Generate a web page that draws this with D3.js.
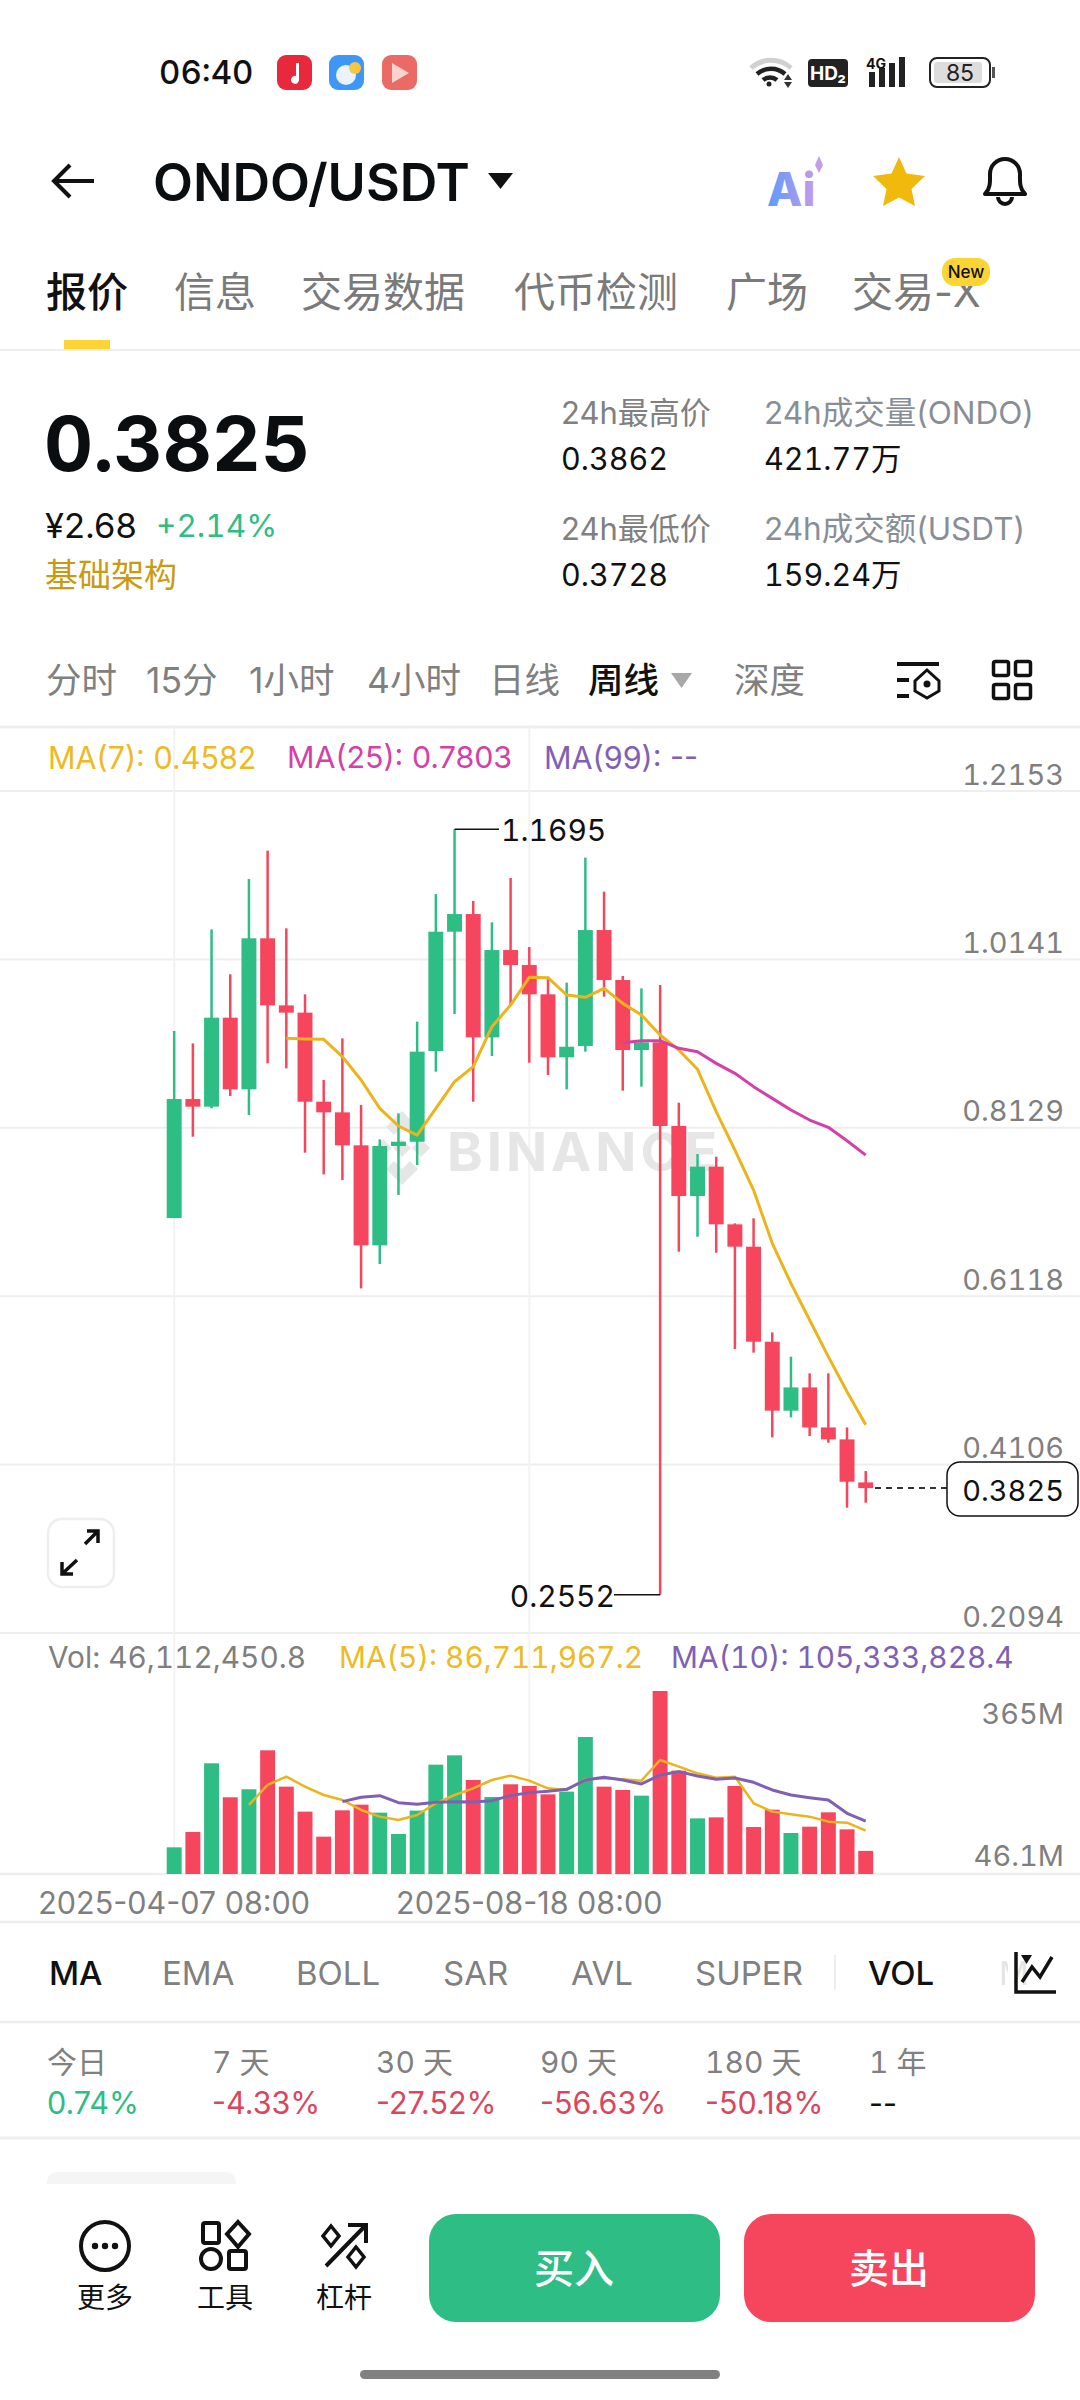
<!DOCTYPE html>
<html><head><meta charset="utf-8">
<style>html,body{margin:0;padding:0;background:#fff}svg{display:block}text{font-family:Inter,"Noto Sans CJK SC",sans-serif}.t{font-variant-numeric:tabular-nums;font-feature-settings:"tnum" 1}</style>
<script src="https://cdnjs.cloudflare.com/ajax/libs/d3/7.8.5/d3.min.js"></script>
</head><body><svg id="c" width="1080" height="2400"></svg>
<script>
// ---- chart data ----
const weeks = d3.range(38);
const dateTicks = [[0,"2025-04-07 08:00"],[19,"2025-08-18 08:00"]];
const open  = [.7051,.8473,.8382,.9445,.8589,1.0393,.9592,.9505,.8441,.8314,.7920,.6725,.7912,.7963,.9047,1.0472,1.0683,.9210,1.0253,1.0074,.9724,.8971,.9106,1.0492,.9895,.9059,.9150,.8151,.7314,.7665,.6976,.6709,.5574,.4750,.5028,.4550,.4407,.3893];
const close = [.8473,.8382,.9445,.8589,1.0393,.9592,.9505,.8441,.8314,.7920,.6725,.7912,.7963,.9039,1.0472,1.0683,.9210,1.0253,1.0074,.9724,.8971,.9098,1.0492,.9895,.9059,.9150,.8151,.7314,.7665,.6976,.6709,.5574,.4750,.5028,.4550,.4407,.3901,.3825];
const high  = [.9286,.9138,1.0500,.9963,1.1102,1.1440,1.0512,.9724,.8700,.9198,.8402,.7991,.8302,.9397,1.0922,1.1695,1.0839,1.0584,1.1114,1.0289,.9935,.9863,1.1357,1.0950,.9943,.9795,.9835,.8429,.7816,.7784,.6988,.7048,.5685,.5395,.5196,.5196,.4550,.4029];
const low   = [.7051,.8023,.8362,.8509,.8282,.8899,.8840,.7832,.7573,.7505,.6211,.6502,.7326,.7685,.8800,.9489,.8441,.8987,.9596,.8907,.8760,.8589,.9039,.9696,.8573,.8621,.2552,.6649,.6828,.6637,.5486,.5443,.4431,.4670,.4447,.4367,.3591,.3650];
const ma7Start = 6;
const ma7  = [.9198,.9190,.9186,.8979,.8700,.8362,.8151,.8043,.8362,.8680,.8860,.9337,.9596,.9927,.9923,.9716,.9688,.9795,.9616,.9477,.9238,.9059,.8828,.8322,.7864,.7386,.6749,.6271,.5833,.5395,.4977,.4582];
const ma25Start = 24;
const ma25 = [.9146,.9170,.9170,.9079,.9039,.8899,.8780,.8621,.8481,.8342,.8222,.8135,.7975,.7803];
const volume = [53.2,83.8,220.8,153,169,246.7,174.2,124.4,74.5,127,138.3,122.4,79.8,126.4,218.1,236.7,187.5,153.6,178.9,175.6,158.9,164.3,273.3,174.2,167.6,156.3,365,206.2,111,113,175.6,93.8,128.3,81.8,94.4,123,89.1,46.1];
const volMa5Start = 4;
const volMa5 = [137.7,177.6,194.2,174.2,157.6,147.6,127.7,114.4,107.7,117.7,141,157.6,170.9,187.5,196.2,186.2,170.9,167.6,188.9,190.9,188.9,186.2,227.4,214.1,200.8,192.2,194.2,141,124.4,119,114.4,104.4,102.4,86.7];
const volMa10Start = 9;
const volMa10 = [144.3,153,156.3,142.3,139,143,144.3,143.6,146.3,156.3,162.3,164.9,168.9,187.5,192.9,187.5,179.6,197.5,204.2,195.5,188.9,191.5,182.9,167.6,157.6,152.3,147.6,121,105.3];
const priceTicks = [1.2153,1.0141,.8129,.6118,.4106,.2094];
const volTicks = [[365,"365M"],[46.1,"46.1M"]];
const lastPrice = .3825, maxMark = [15,1.1695], minMark = [26,.2552];
const pageTabs = [["报价",46,1],["信息",174,0],["交易数据",301,0],["代币检测",514,0],["广场",726,0],["交易-X",852,0]];
const statBlocks = [["24h最高价","0.3862",561,1],["24h成交量(ONDO)","421.77万",764,1],["24h最低价","0.3728",561,2],["24h成交额(USDT)","159.24万",764,2]];
const intervals = [["分时",46,0],["15分",146,0],["1小时",249,0],["4小时",367,0],["日线",489,0],["周线",588,1],["深度",734,0]];
const indicators = [["MA",49,1],["EMA",162,0],["BOLL",296,0],["SAR",443,0],["AVL",571,0],["SUPER",695,0],["VOL",868,1]];
const periods = [["今日","0.74%",47,1],["7 天","-4.33%",212,-1],["30 天","-27.52%",376,-1],["90 天","-56.63%",540,-1],["180 天","-50.18%",705,-1],["1 年","--",869,0]];
const tools = [["更多",105],["工具",225],["杠杆",344]];

const GREEN="#2ebd85", RED="#f6465d", GRID="#eeeeee", GREY="#7f7f7f", YEL="#edba25", MAG="#d440a8", PUR="#7f60b4";
const svg = d3.select("#c");
const T=(x,y,s,size,fill,o={})=>svg.append("text").attr("x",x).attr("y",y).attr("font-size",size).attr("fill",fill)
  .attr("class",o.t?"t":null).attr("dominant-baseline","central").attr("text-anchor",o.a||"start").attr("font-weight",o.w||400).attr("letter-spacing",o.ls||null).text(s);
const L=(x1,y1,x2,y2,c,w=2)=>svg.append("line").attr("x1",x1).attr("y1",y1).attr("x2",x2).attr("y2",y2).attr("stroke",c).attr("stroke-width",w);

// scales
const x = d3.scaleBand().domain(weeks).range([166.7,873.2]).paddingInner(.2);
const cx = i=>x(i)+x.bandwidth()/2;
const y = d3.scaleLinear().domain([.2094,1.2153]).range([1633,791]);
const yv = d3.scaleLinear().domain([0,365]).range([1874,1691]);

// ---- status bar ----
T(159,72,"06:40",33,"#111",{w:500,t:1});
[[277,"#e8283c"],[329,"#3f97f5"],[382,"#ea6a66"]].forEach(([a,c])=>svg.append("rect").attr("x",a).attr("y",55).attr("width",35).attr("height",35).attr("rx",9).attr("fill",c));
svg.append("path").attr("d","M299 63v17a4 4 0 1 1-3-4v-13z").attr("fill","#fff");
svg.append("circle").attr("cx",346).attr("cy",75).attr("r",10).attr("fill","#eaf3fd");
svg.append("circle").attr("cx",355).attr("cy",68).attr("r",6).attr("fill","#f8c640");
svg.append("path").attr("d","M392 63l17 10-17 10z").attr("fill","#fbd2cd");
svg.append("path").attr("d","M751 68a30 30 0 0 1 40 0").attr("fill","none").attr("stroke","#d0d0d0").attr("stroke-width",5);
svg.append("path").attr("d","M757 74a21 21 0 0 1 28 0M763 80a11 11 0 0 1 14 0").attr("fill","none").attr("stroke","#222").attr("stroke-width",4.5);
svg.append("circle").attr("cx",769).attr("cy",84).attr("r",2.5).attr("fill","#222");
svg.append("path").attr("d","M784 80l4-6 4 6zM784 82l4 6 4-6z").attr("fill","#333");
svg.append("rect").attr("x",808).attr("y",59).attr("width",40).attr("height",28).attr("rx",4).attr("fill","#222");
T(828,73,"HD₂",19,"#fff",{a:"middle",w:700});
T(866,63,"4G",14,"#111",{w:700});
[[869,72,15],[879,68,19],[889,63,24],[899,57,30]].forEach(([a,b,h])=>svg.append("rect").attr("x",a).attr("y",b).attr("width",6).attr("height",h).attr("fill","#222"));
svg.append("rect").attr("x",930).attr("y",58).attr("width",60).attr("height",29).attr("rx",7).attr("fill","none").attr("stroke","#222").attr("stroke-width",2);
svg.append("rect").attr("x",934).attr("y",62).attr("width",48).attr("height",21).attr("rx",3).attr("fill","#ddd");
svg.append("rect").attr("x",992).attr("y",67).attr("width",3).attr("height",11).attr("fill","#555");
T(960,73,"85",23,"#222",{a:"middle"});

// ---- header ----
svg.append("path").attr("d","M94 181H55M70 165L54 181L70 197").attr("fill","none").attr("stroke","#111").attr("stroke-width",4);
T(153,182,"ONDO/USDT",52,"#0b0e11",{w:600});
svg.append("path").attr("d","M488 173h25l-12.500 16z").attr("fill","#111");
const aiG=svg.append("defs").append("linearGradient").attr("id","ai");
aiG.append("stop").attr("offset",0).attr("stop-color","#5b9cf8");aiG.append("stop").attr("offset",1).attr("stop-color","#c59bea");
T(767,189,"Ai",46,"url(#ai)",{w:800});
svg.append("path").attr("d","M815 165l4 8 4 -8 -4 -9z").attr("fill","#c59bea");
svg.append("path").attr("d","M899 157l7.500 16.500 18.500 2.500-13.500 13 3.500 17-16-8.500-16 8.500 3.500-17-13.500-13 18.500-2.500z").attr("fill","#f0b90b");
svg.append("path").attr("d","M985 194c6-6 5-14 5-20a15 15 0 0 1 30 0c0 6-1 14 5 20z").attr("fill","none").attr("stroke","#111").attr("stroke-width",4).attr("stroke-linejoin","round");
svg.append("path").attr("d","M998 197a7 7 0 0 0 14 0").attr("fill","none").attr("stroke","#111").attr("stroke-width",4);

// page tabs
pageTabs.forEach(([s,px,on])=>T(px,292,s,41,on?"#111":"#7a7a7a",{w:on?500:400}));
svg.append("rect").attr("x",942).attr("y",258).attr("width",48).attr("height",28).attr("rx",13).attr("fill","#fcd535");
T(966,272,"New",17,"#111",{a:"middle",w:500});
svg.append("rect").attr("x",64).attr("y",340).attr("width",46).attr("height",9).attr("fill","#fcd535");
L(0,350,1080,350,GRID);

// ---- price block ----
T(44,443,"0.3825",76,"#0b0e11",{w:700,t:1});
T(45,525,"¥2.68",34.5,"#111");
T(156,525,"+2.14%",31.5,GREEN,{t:1});
T(45,575,"基础架构",33,"#c99a12");
statBlocks.forEach(([a,b,px,row])=>{const dy=row==1?0:116;
  T(px,412+dy,a,px<700?31:31.5,px<700?"#808080":"#888e96");
  T(px,458+dy,b,30.5,"#111",{t:1});});
intervals.forEach(([s,px,on])=>T(px,680,s,35.5,on?"#111":"#808080",{w:on?500:400}));
svg.append("path").attr("d","M671 673h21l-10.500 15z").attr("fill","#a8a8a8");
svg.append("path").attr("d","M897 664h42M897 680h12M897 696h12").attr("stroke","#111").attr("stroke-width",4);
svg.append("path").attr("d","M927 670l12 11v10l-12 7-12-7v-10z").attr("fill","none").attr("stroke","#111").attr("stroke-width",3);
svg.append("circle").attr("cx",927).attr("cy",684).attr("r",3.5).attr("fill","#111");
[[992,660],[1014,660],[992,683],[1014,683]].forEach(([a,b])=>svg.append("rect").attr("x",a+1.500).attr("y",b+1.500).attr("width",15).attr("height",14).attr("rx",2).attr("fill","none").attr("stroke","#111").attr("stroke-width",3.5));

// ---- chart grid ----
L(0,727,1080,727,GRID,3);
svg.append("g").selectAll("line").data(priceTicks).join("line").attr("x1",0).attr("x2",1080).attr("y1",d=>y(d)).attr("y2",d=>y(d)).attr("stroke",GRID).attr("stroke-width",2);
svg.append("g").selectAll("line").data(dateTicks).join("line").attr("x1",d=>cx(d[0])).attr("x2",d=>cx(d[0])).attr("y1",727).attr("y2",1874).attr("stroke","#f3f3f3").attr("stroke-width",2);
L(0,1874,1080,1874,GRID,2.5);

// watermark
svg.append("path").attr("d","M402 1111l16 16-8 8-8-8-8 8-8-8zM374 1148l9-9 9 9-9 9zM430 1148l-9-9-9 9 9 9zM402 1185l-16-16 8-8 8 8 8-8 8 8zM402 1139l9 9-9 9-9-9z").attr("fill","#e6e6e6");
T(447,1151,"BINANCE",54,"#e6e6e6",{w:700,ls:4});

// ---- candles ----
const up=i=>close[i]>=open[i];
svg.append("g").selectAll("line").data(weeks).join("line")
  .attr("x1",cx).attr("x2",cx).attr("y1",i=>y(high[i])).attr("y2",i=>y(low[i]))
  .attr("stroke",i=>up(i)?GREEN:RED).attr("stroke-width",2.5);
svg.append("g").selectAll("rect").data(weeks).join("rect")
  .attr("x",i=>x(i)).attr("width",x.bandwidth())
  .attr("y",i=>y(Math.max(open[i],close[i])))
  .attr("height",i=>Math.max(2,Math.abs(y(open[i])-y(close[i]))))
  .attr("fill",i=>up(i)?GREEN:RED);
const line=(arr,start,sc,color,w)=>svg.append("path").attr("d",d3.line().x((d,i)=>cx(i+start)).y(d=>sc(d))(arr))
  .attr("fill","none").attr("stroke",color).attr("stroke-width",w).attr("stroke-linejoin","round");
line(ma7,ma7Start,y,"#ecb41c",3);
line(ma25,ma25Start,y,MAG,3);

// high/low marks
L(cx(maxMark[0]),y(maxMark[1]),499,y(maxMark[1]),"#111",1.5);
T(501,y(maxMark[1])+1,maxMark[1].toFixed(4),30,"#111",{t:1});
L(614,y(minMark[1]),cx(minMark[0]),y(minMark[1]),"#111",1.5);
T(615,y(minMark[1])+1,minMark[1].toFixed(4),30,"#111",{a:"end",t:1});

// legends and axes
T(48,757,"MA(7): 0.4582",30.5,YEL);
T(287,757,"MA(25): 0.7803",30.4,MAG);
T(544,757,"MA(99): --",30.5,PUR);
priceTicks.forEach(d=>T(1064,y(d)-17,d.toFixed(4),29,GREY,{a:"end",t:1}));

// last price tag
L(875,y(lastPrice),947,y(lastPrice),"#333",2).attr("stroke-dasharray","6 5");
svg.append("rect").attr("x",947).attr("y",1462).attr("width",131).attr("height",54).attr("rx",13).attr("fill","#fff").attr("stroke","#111").attr("stroke-width",1.5);
T(1064,1490,lastPrice.toFixed(4),29,"#111",{a:"end",t:1});

// fullscreen button
svg.append("rect").attr("x",48).attr("y",1519).attr("width",66).attr("height",68).attr("rx",14).attr("fill","#fff").attr("stroke","#eee").attr("stroke-width",2.5);
svg.append("path").attr("d","M85 1544l13-13M87 1531h11v12M77 1560l-15 14M62 1562v12h11").attr("fill","none").attr("stroke","#111").attr("stroke-width",3.5);

// ---- volume ----
T(48,1657,"Vol: 46,112,450.8",29.8,GREY,{t:1});
T(339,1657,"MA(5): 86,711,967.2",29.8,YEL,{t:1});
T(671,1657,"MA(10): 105,333,828.4",29.8,PUR,{t:1});
volTicks.forEach(([v,s],i)=>T(1064,i?1855:1713,s,29,GREY,{a:"end",t:1}));
svg.append("g").selectAll("rect").data(weeks).join("rect")
  .attr("x",i=>x(i)).attr("width",x.bandwidth()).attr("y",i=>yv(volume[i])).attr("height",i=>yv(0)-yv(volume[i]))
  .attr("fill",i=>up(i)?GREEN:RED);
line(volMa5,volMa5Start,yv,"#ecb41c",2.5);
line(volMa10,volMa10Start,yv,PUR,3);
dateTicks.forEach(([i,s])=>T(cx(i),1902,s,30.5,GREY,{a:"middle"}));
L(0,1922,1080,1922,GRID,2.5);

// ---- indicators row ----
indicators.forEach(([s,px,on])=>T(px,1973,s,33,on?"#111":"#808080",{w:on?500:400}));
L(835,1955,835,1990,"#eee",2);
T(999,1973,"M",33,"#e4e4e4");
svg.append("rect").attr("x",1008).attr("y",1948).attr("width",6).attr("height",50).attr("fill","#fff");
svg.append("path").attr("d","M1016 1952v40h40M1022 1982l10-15 8 10 12-20").attr("fill","none").attr("stroke","#111").attr("stroke-width",3.5);
svg.append("path").attr("d","M1021 1955h11l-5.500 9z").attr("fill","#111");
L(0,2022,1080,2022,GRID,2.5);

// ---- period changes ----
periods.forEach(([a,b,px,s])=>{T(px,2062,a,30,"#808080",{t:1});T(px,2102,b,30.5,s>0?GREEN:s<0?"#d9475f":"#111");});
L(0,2138,1080,2138,GRID,3);
svg.append("path").attr("d","M47 2184v-2a10 10 0 0 1 10-10h169a10 10 0 0 1 10 10v2z").attr("fill","#f5f5f5");

// ---- bottom bar ----
tools.forEach(([s,px])=>T(px,2298,s,28,"#111",{a:"middle"}));
svg.append("circle").attr("cx",105).attr("cy",2246).attr("r",24).attr("fill","none").attr("stroke","#111").attr("stroke-width",4);
[95,105,115].forEach(a=>svg.append("circle").attr("cx",a).attr("cy",2246).attr("r",3.2).attr("fill","#111"));
svg.append("rect").attr("x",203).attr("y",2223).attr("width",16).attr("height",20).attr("rx",2).attr("fill","none").attr("stroke","#111").attr("stroke-width",4);
svg.append("path").attr("d","M238 2222l11 12-11 13-11-13z").attr("fill","none").attr("stroke","#111").attr("stroke-width",4);
svg.append("circle").attr("cx",211).attr("cy",2259).attr("r",10).attr("fill","none").attr("stroke","#111").attr("stroke-width",4);
svg.append("rect").attr("x",229).attr("y",2251).attr("width",17).attr("height",18).attr("rx",2).attr("fill","none").attr("stroke","#111").attr("stroke-width",4);
svg.append("path").attr("d","M326 2266l40-41M348 2225h18v18").attr("fill","none").attr("stroke","#111").attr("stroke-width",4);
svg.append("path").attr("d","M331 2226l8 10-8 10-8-10zM356 2247l8 10-8 10-8-10z").attr("fill","none").attr("stroke","#111").attr("stroke-width",3.5);
svg.append("rect").attr("x",429).attr("y",2214).attr("width",291).attr("height",108).attr("rx",27).attr("fill",GREEN);
svg.append("rect").attr("x",744).attr("y",2214).attr("width",291).attr("height",108).attr("rx",27).attr("fill",RED);
T(574,2268,"买入",40,"#fff",{a:"middle",w:500});
T(889,2268,"卖出",40,"#fff",{a:"middle",w:500});
svg.append("rect").attr("x",360).attr("y",2370).attr("width",360).attr("height",9).attr("rx",4.5).attr("fill","#808080");
</script></body></html>
